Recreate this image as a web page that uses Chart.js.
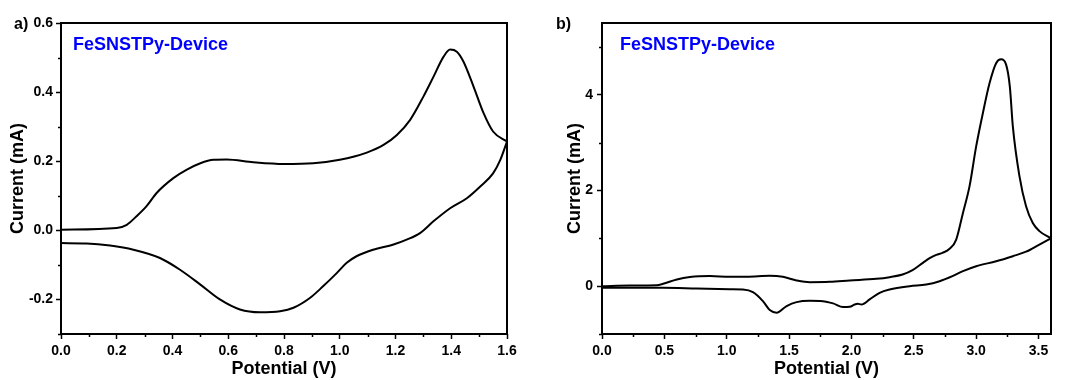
<!DOCTYPE html>
<html>
<head>
<meta charset="utf-8">
<script src="https://cdn.jsdelivr.net/npm/chart.js@4/dist/chart.umd.min.js"></script>
<style>
  body { margin: 0; background: #fff; }
  #wrap { position: relative; width: 1065px; height: 380px; overflow: hidden; }
  canvas { position: absolute; top: 0; }
  .lbl { position: absolute; font-family: "Liberation Sans", Arial, sans-serif; font-weight: bold; white-space: nowrap; }
  .panel { font-size: 16px; line-height: 16px; color: #000; }
  .note { font-size: 18px; line-height: 18px; color: #0000ff; }
</style>
</head>
<body>
<div id="wrap">
  <canvas id="chartA" width="535" height="380" style="left:0"></canvas>
  <canvas id="chartB" width="530" height="380" style="left:535px"></canvas>
  <div class="lbl panel" style="left:14px;top:16px">a)</div>
  <div class="lbl panel" style="left:556px;top:16px">b)</div>
  <div class="lbl note" style="left:73px;top:35px">FeSNSTPy-Device</div>
  <div class="lbl note" style="left:620px;top:35px">FeSNSTPy-Device</div>
</div>
<script>
// panel a) forward scan (upper branch) and reverse scan (lower branch)
const aFwdV = [0.0, 0.2, 0.236, 0.27, 0.307, 0.343, 0.403, 0.45, 0.5, 0.547, 0.594, 0.69, 0.8, 0.905, 1.0, 1.097, 1.157, 1.205, 1.252, 1.30, 1.336, 1.372, 1.396, 1.42, 1.444, 1.48, 1.516, 1.55, 1.6];
const aFwdI = [0.002, 0.007, 0.016, 0.04, 0.07, 0.108, 0.151, 0.175, 0.194, 0.204, 0.205, 0.197, 0.192, 0.194, 0.204, 0.225, 0.247, 0.276, 0.319, 0.387, 0.444, 0.502, 0.523, 0.517, 0.488, 0.416, 0.339, 0.286, 0.257];
const aRevV = [1.6, 1.576, 1.55, 1.504, 1.456, 1.396, 1.336, 1.288, 1.24, 1.193, 1.12, 1.06, 1.025, 0.99, 0.94, 0.894, 0.834, 0.786, 0.714, 0.642, 0.57, 0.5, 0.427, 0.355, 0.26, 0.176, 0.092, 0.0];
const aRevI = [0.257, 0.204, 0.165, 0.127, 0.093, 0.064, 0.026, -0.008, -0.027, -0.041, -0.056, -0.075, -0.094, -0.123, -0.162, -0.195, -0.224, -0.234, -0.237, -0.229, -0.2, -0.157, -0.114, -0.08, -0.056, -0.044, -0.038, -0.037];

// panel b)
const bFwdV = [0.0, 0.224, 0.44, 0.49, 0.6, 0.705, 0.865, 1.025, 1.16, 1.345, 1.45, 1.56, 1.666, 1.826, 1.986, 2.2, 2.306, 2.41, 2.49, 2.573, 2.627, 2.68, 2.73, 2.787, 2.84, 2.894, 2.947, 3.0, 3.054, 3.107, 3.16, 3.2, 3.24, 3.27, 3.294, 3.347, 3.4, 3.454, 3.507, 3.6];
const bFwdI = [0.0, 0.014, 0.02, 0.05, 0.14, 0.19, 0.21, 0.195, 0.195, 0.215, 0.195, 0.12, 0.083, 0.09, 0.118, 0.153, 0.188, 0.243, 0.334, 0.487, 0.584, 0.654, 0.696, 0.78, 0.974, 1.53, 2.09, 2.92, 3.62, 4.24, 4.66, 4.74, 4.63, 4.17, 3.34, 2.3, 1.67, 1.32, 1.15, 1.0];
const bRevV = [3.6, 3.507, 3.4, 3.294, 3.16, 3.0, 2.894, 2.81, 2.707, 2.6, 2.467, 2.306, 2.226, 2.146, 2.08, 2.05, 2.026, 1.986, 1.933, 1.853, 1.77, 1.666, 1.56, 1.48, 1.4, 1.345, 1.29, 1.21, 1.13, 1.025, 0.758, 0.49, 0.0];
const bRevI = [1.0, 0.87, 0.72, 0.626, 0.52, 0.417, 0.313, 0.209, 0.104, 0.035, 0.0, -0.07, -0.139, -0.278, -0.383, -0.369, -0.383, -0.43, -0.438, -0.36, -0.313, -0.306, -0.334, -0.417, -0.556, -0.5, -0.313, -0.125, -0.07, -0.063, -0.049, -0.035, -0.035];

// tick values
const aXTicks = [0.0, 0.2, 0.4, 0.6, 0.8, 1.0, 1.2, 1.4, 1.6];
const aXMinor = [0.1, 0.3, 0.5, 0.7, 0.9, 1.1, 1.3, 1.5];
const aYTicks = [-0.2, 0.0, 0.2, 0.4, 0.6];
const aYMinor = [-0.3, -0.1, 0.1, 0.3, 0.5];
const bXTicks = [0.0, 0.5, 1.0, 1.5, 2.0, 2.5, 3.0, 3.5];
const bXMinor = [0.25, 0.75, 1.25, 1.75, 2.25, 2.75, 3.25];
const bYTicks = [0, 2, 4];
const bYMinor = [-1, 1, 3, 5];

const toPts = (xs, ys) => xs.map((x, i) => ({x: x, y: ys[i]}));

// draws the box round the plot and the short minor ticks
const framePlugin = {
  id: 'frameTicks',
  afterDraw(chart, args, opts) {
    const ctx = chart.ctx;
    const a = chart.chartArea;
    const xs = chart.scales.x, ys = chart.scales.y;
    ctx.save();
    ctx.strokeStyle = '#000';
    ctx.lineWidth = 1.5;
    (opts.xMinor || []).forEach(v => {
      const px = Math.round(xs.getPixelForValue(v)) + 0.5;
      ctx.beginPath(); ctx.moveTo(px, a.bottom); ctx.lineTo(px, a.bottom + 3); ctx.stroke();
    });
    (opts.yMinor || []).forEach(v => {
      const py = Math.round(ys.getPixelForValue(v)) + 0.5;
      ctx.beginPath(); ctx.moveTo(a.left, py); ctx.lineTo(a.left - 3, py); ctx.stroke();
    });
    ctx.lineWidth = 2;
    ctx.strokeRect(a.left, a.top, a.right - a.left, a.bottom - a.top);
    ctx.restore();
  }
};

const tickFont = {family: '"Liberation Sans", Arial, sans-serif', size: 14, weight: 'bold'};
const titleFont = {family: '"Liberation Sans", Arial, sans-serif', size: 18, weight: 'bold'};

function makeChart(id, fwd, rev, xr, yr, xt, yt, xm, ym, xDec, yDec, yAxisW, yTitlePad, yTickPad, padRight) {
  const line = {showLine: true, borderColor: '#000', borderWidth: 2, pointRadius: 0,
    cubicInterpolationMode: 'monotone', fill: false};
  return new Chart(document.getElementById(id).getContext('2d'), {
    type: 'scatter',
    data: {
      datasets: [
        Object.assign({data: fwd}, line),
        Object.assign({data: rev}, line)
      ]
    },
    plugins: [framePlugin],
    options: {
      responsive: false,
      animation: false,
      layout: {padding: {left: 0, right: padRight, top: 23, bottom: 0}},
      plugins: {
        legend: {display: false},
        tooltip: {enabled: false},
        frameTicks: {xMinor: xm, yMinor: ym}
      },
      scales: {
        x: {
          type: 'linear', min: xr[0], max: xr[1],
          afterBuildTicks: s => { s.ticks = xt.map(v => ({value: v})); },
          afterFit: s => { s.height = 46; },
          grid: {drawOnChartArea: false, drawTicks: true, tickLength: 5, tickWidth: 1.5, tickColor: '#000'},
          border: {display: false},
          ticks: {color: '#000', font: tickFont, padding: 4, maxRotation: 0, autoSkip: false,
            callback: v => Number(v).toFixed(xDec)},
          title: {display: true, text: 'Potential (V)', color: '#000', font: titleFont, padding: {top: 0, bottom: 0}}
        },
        y: {
          type: 'linear', min: yr[0], max: yr[1],
          afterBuildTicks: s => { s.ticks = yt.map(v => ({value: v})); },
          afterFit: s => { s.width = yAxisW; },
          grid: {drawOnChartArea: false, drawTicks: true, tickLength: 5, tickWidth: 1.5, tickColor: '#000'},
          border: {display: false},
          ticks: {color: '#000', font: tickFont, padding: yTickPad, autoSkip: false,
            callback: v => Number(v).toFixed(yDec)},
          title: {display: true, text: 'Current (mA)', color: '#000', font: titleFont, padding: {top: yTitlePad, bottom: 0}}
        }
      }
    }
  });
}

makeChart('chartA', toPts(aFwdV, aFwdI), toPts(aRevV, aRevI), [0, 1.6], [-0.3, 0.6],
  aXTicks, aYTicks, aXMinor, aYMinor, 1, 1, 61, 7, 3, 28);
makeChart('chartB', toPts(bFwdV, bFwdI), toPts(bRevV, bRevI), [0, 3.6], [-1, 5.5],
  bXTicks, bYTicks, bXMinor, bYMinor, 1, 0, 67, 29, 4, 14);
</script>
</body>
</html>
